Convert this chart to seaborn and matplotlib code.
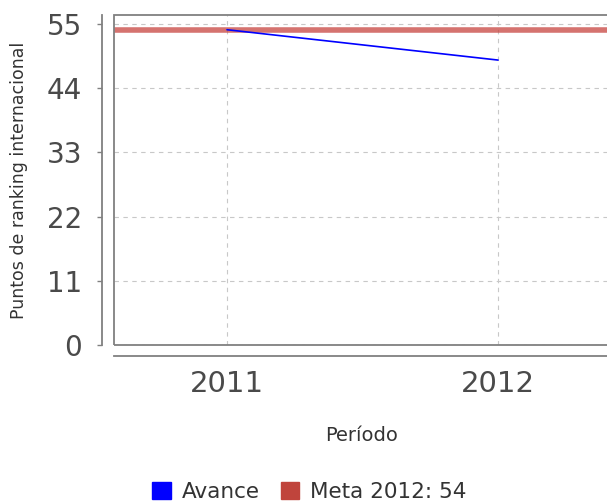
import matplotlib
matplotlib.use("Agg")
import matplotlib.pyplot as plt
from matplotlib.patches import Patch, Rectangle
import pandas as pd
import seaborn as sns

# ── Data ──────────────────────────────────────────────────────────────────────
periodos = [2011, 2012]
avance = [54, 48.8]
meta_valor = 54
meta_label = "Meta 2012: 54"
y_ticks = [0, 11, 22, 33, 44, 55]

df = pd.DataFrame({"Periodo": periodos, "Avance": avance})

# ── Figure ────────────────────────────────────────────────────────────────────
sns.set_style("white")
fig = plt.figure(figsize=(6.07, 5.04), dpi=100)
ax = fig.add_axes([0.1878, 0.3155, 0.822, 0.6545])

ax.axhline(meta_valor, color="#c8443f", lw=4, alpha=0.75, zorder=2)
sns.lineplot(data=df, x="Periodo", y="Avance", ax=ax, color="#0000ff",
             lw=1.2, zorder=3, legend=False)

ax.set_xlim(2010.583, 2012.424)
ax.set_ylim(0, 56.5)
ax.set_xticks(periodos)
ax.set_xticklabels([str(p) for p in periodos])
ax.set_yticks(y_ticks)

ax.grid(True, color="#c8c8c8", ls=(0, (4, 4)), lw=0.8)

# frame around the plot area
ax.add_patch(Rectangle((0, 0), 1, 1, transform=ax.transAxes, fill=False,
                       edgecolor="#808080", lw=1.3, clip_on=False, zorder=4))

for s in ["top", "right"]:
    ax.spines[s].set_visible(False)
ax.spines["left"].set_position(("outward", 8.5))
ax.spines["bottom"].set_position(("outward", 8))
for s in ["left", "bottom"]:
    ax.spines[s].set_color("#808080")
    ax.spines[s].set_linewidth(1.3)

ax.tick_params(axis="y", length=3.6, width=1, colors="#808080",
               labelcolor="#4a4a4a", labelsize=20, pad=11, left=True)
ax.tick_params(axis="x", length=0, labelcolor="#4a4a4a", labelsize=21, pad=10)

ax.set_xlabel("Período", fontsize=14, color="#333333")
ax.xaxis.set_label_coords(0.497, -0.245)
ax.set_ylabel("Puntos de ranking internacional", fontsize=12.5,
              color="#333333")
ax.yaxis.set_label_coords(-0.172, 0.5)

handles = [Patch(color="#0000ff", label="Avance"),
           Patch(color="#c0443c", label=meta_label)]
fig.legend(handles=handles, loc="center", bbox_to_anchor=(0.51, 0.024),
           ncol=2, frameon=False, fontsize=15.5, handlelength=0.85,
           handleheight=0.85, handletextpad=0.5, columnspacing=1.0,
           labelcolor="#333333")

fig.savefig("out.png", dpi=100)
